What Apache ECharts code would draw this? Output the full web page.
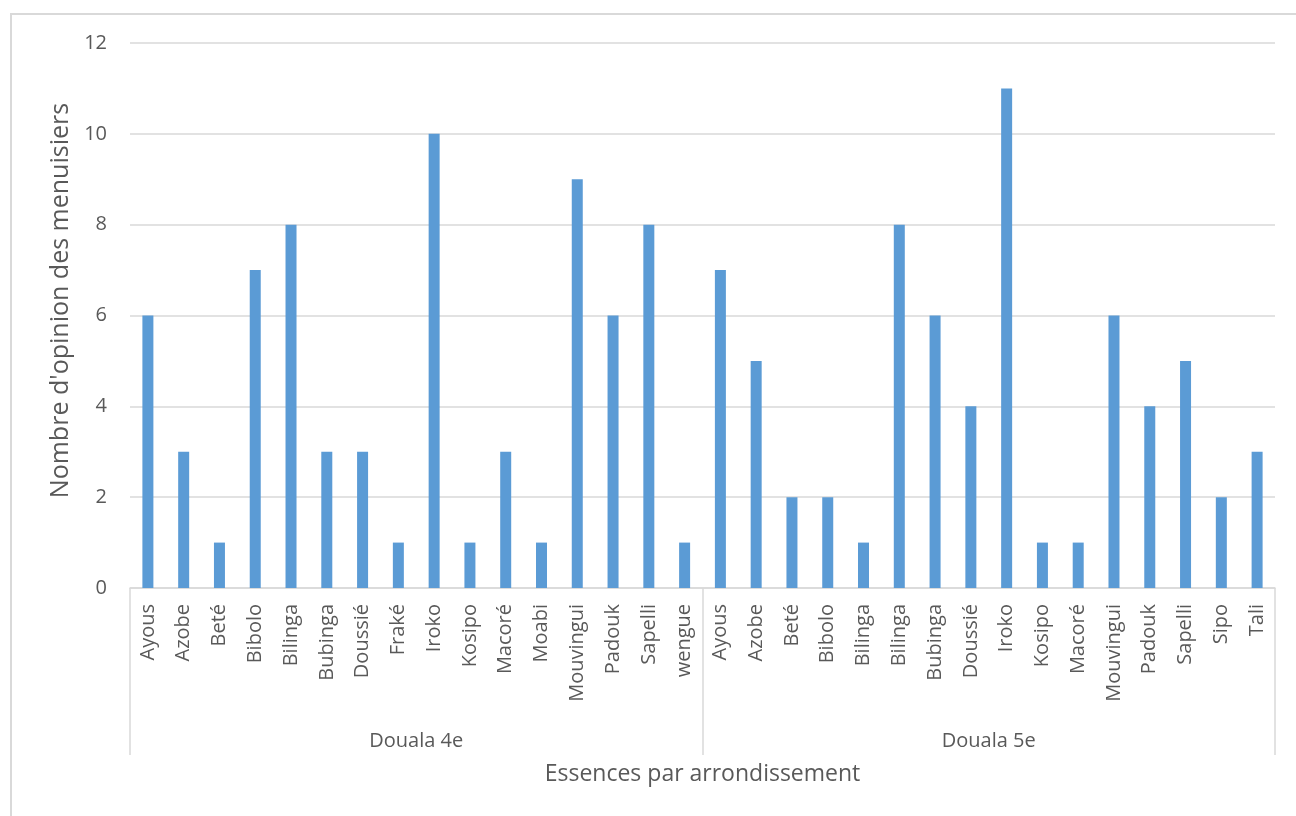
<!DOCTYPE html>
<html>
<head>
<meta charset="utf-8">
<script src="https://cdn.jsdelivr.net/npm/echarts@6/dist/echarts.min.js"></script>
<style>
  html, body { margin: 0; padding: 0; background: #ffffff; }
  #wrap { position: relative; width: 1296px; height: 816px; overflow: hidden; }
  #frame { position: absolute; left: 10px; top: 13px; width: 1300px; height: 820px; border: 2px solid #d9d9d9; box-sizing: border-box; }
  #chart { position: absolute; left: 0; top: 0; width: 1296px; height: 816px; }
</style>
</head>
<body>
<div id="wrap">
  <div id="frame"></div>
  <div id="chart"></div>
</div>
<script>
const groups = ['Douala 4e', 'Douala 5e'];
const essences4 = ['Ayous', 'Azobe', 'Beté', 'Bibolo', 'Bilinga', 'Bubinga', 'Doussié', 'Fraké', 'Iroko', 'Kosipo', 'Macoré', 'Moabi', 'Mouvingui', 'Padouk', 'Sapelli', 'wengue'];
const values4 = [6, 3, 1, 7, 8, 3, 3, 1, 10, 1, 3, 1, 9, 6, 8, 1];
const essences5 = ['Ayous', 'Azobe', 'Beté', 'Bibolo', 'Bilinga', 'Bilinga', 'Bubinga', 'Doussié', 'Iroko', 'Kosipo', 'Macoré', 'Mouvingui', 'Padouk', 'Sapelli', 'Sipo', 'Tali'];
const values5 = [7, 5, 2, 2, 1, 8, 6, 4, 11, 1, 1, 6, 4, 5, 2, 3];
const yTicks = [0, 2, 4, 6, 8, 10, 12];
const yTitle = "Nombre d'opinion des menuisiers";
const xTitle = 'Essences par arrondissement';

const categories = essences4.concat(essences5);
const values = values4.concat(values5);
const textColor = '#595959';
const lineColor = '#d9d9d9';
const font = 'Open Sans';

const chart = echarts.init(document.getElementById('chart'), null, { renderer: 'canvas' });
chart.setOption({
  animation: false,
  backgroundColor: 'transparent',
  textStyle: { fontFamily: font },
  grid: { left: 130, right: 21, top: 43, bottom: 228, containLabel: false },
  xAxis: [
    {
      type: 'category',
      data: categories,
      position: 'bottom',
      axisLine: { show: true, lineStyle: { color: lineColor, width: 1.5 } },
      axisTick: { show: false },
      axisLabel: { interval: 0, rotate: 90, margin: 16, fontSize: 20, color: textColor, fontFamily: font }
    },
    {
      type: 'category',
      data: groups,
      position: 'bottom',
      offset: 0,
      axisLine: { show: false },
      axisTick: { show: true, length: 167, interval: 0, lineStyle: { color: lineColor, width: 1.5 } },
      axisLabel: { interval: 0, margin: 143, fontSize: 20, color: textColor, fontFamily: font },
      name: xTitle,
      nameLocation: 'middle',
      nameGap: 175,
      nameTextStyle: { fontSize: 23, color: textColor, fontFamily: font }
    }
  ],
  yAxis: {
    type: 'value',
    min: yTicks[0],
    max: yTicks[yTicks.length - 1],
    interval: yTicks[1] - yTicks[0],
    axisLine: { show: false },
    axisTick: { show: false },
    axisLabel: { fontSize: 20, color: textColor, margin: 23, fontFamily: font },
    splitLine: { show: true, lineStyle: { color: lineColor, width: 1.5 } },
    name: yTitle,
    nameLocation: 'middle',
    nameRotate: 90,
    nameGap: 54,
    nameTextStyle: { fontSize: 25, color: textColor, fontFamily: font, padding: [0, 0, 0, 30] }
  },
  series: [
    {
      type: 'bar',
      xAxisIndex: 0,
      data: values,
      barWidth: 11,
      itemStyle: { color: '#5B9BD5' }
    }
  ]
});
</script>
</body>
</html>
